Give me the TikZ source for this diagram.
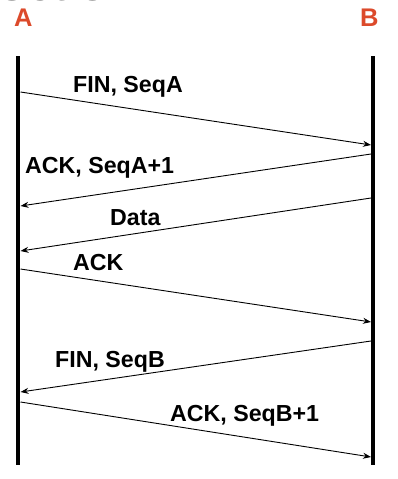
\documentclass[tikz,border=0pt]{standalone}
\usepackage{fontspec}
\setmainfont{Liberation Sans}
\usetikzlibrary{arrows.meta}
\definecolor{peer}{HTML}{DC4A2B}
\definecolor{titlegray}{HTML}{5A5A5A}
\tikzset{
  lifeline/.style={line width=4.5pt},
  msg/.style={line width=0.9pt,-{Stealth[length=8pt,width=6pt]}},
  msglabel/.style={anchor=base west,inner sep=0pt,font=\fontsize{23.2}{25}\selectfont\bfseries},
  peerlabel/.style={anchor=base west,inner sep=0pt,text=peer,font=\fontsize{25.5}{27}\selectfont\bfseries},
}
\begin{document}
\begin{tikzpicture}[x=1pt,y=-1pt]
  \useasboundingbox (0,0) rectangle (398,479);
  \clip (0,0) rectangle (398,479);
  \fill[white] (0,0) rectangle (398,479);

  % heading, cut off at the upper edge
  \node[anchor=base west,inner sep=0pt,text=titlegray,font=\fontsize{52}{54}\selectfont] (title) at (-3,0.9) {ection};

  % peers
  \node[peerlabel] (A) at (14,26.7) {A};
  \node[peerlabel] (B) at (360,26.7) {B};

  % lifelines
  \coordinate (Atop) at (18,56);
  \coordinate (Abot) at (18,465);
  \coordinate (Btop) at (373,56);
  \coordinate (Bbot) at (373,465);
  \draw[lifeline] (Atop) -- (Abot);
  \draw[lifeline] (Btop) -- (Bbot);

  % message end points on the lifelines
  \coordinate (a1) at (20.5,92);  \coordinate (b1) at (371,145);
  \coordinate (b2) at (371,154);  \coordinate (a2) at (20.5,206);
  \coordinate (b3) at (371,198);  \coordinate (a3) at (20.5,251);
  \coordinate (a4) at (20.5,269); \coordinate (b4) at (371,322);
  \coordinate (b5) at (371,341);  \coordinate (a5) at (20.5,392);
  \coordinate (a6) at (20.5,402); \coordinate (b6) at (371,457);

  % messages
  \draw[msg] (a1) -- (b1);
  \draw[msg] (b2) -- (a2);
  \draw[msg] (b3) -- (a3);
  \draw[msg] (a4) -- (b4);
  \draw[msg] (b5) -- (a5);
  \draw[msg] (a6) -- (b6);

  % message labels
  \node[msglabel] (l1) at (73,92) {FIN, SeqA};
  \node[msglabel] (l2) at (25,173) {ACK, SeqA+1};
  \node[msglabel] (l3) at (110,225) {Data};
  \node[msglabel] (l4) at (73,270) {ACK};
  \node[msglabel] (l5) at (55,367) {FIN, SeqB};
  \node[msglabel] (l6) at (170,421) {ACK, SeqB+1};
\end{tikzpicture}
\end{document}
